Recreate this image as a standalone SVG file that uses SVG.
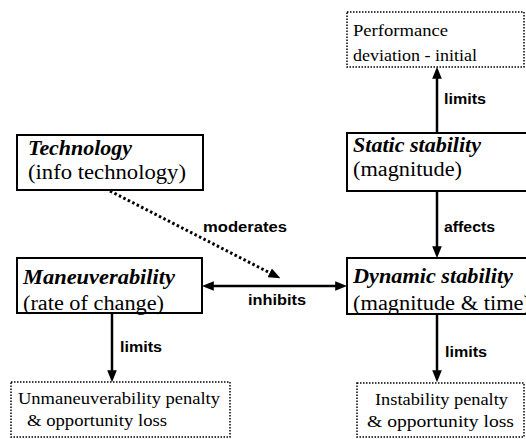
<svg xmlns="http://www.w3.org/2000/svg" width="526" height="439" viewBox="0 0 526 439">
<style>
.box{fill:#fff;stroke:#000;stroke-width:2}
.dbox{fill:#fff;stroke:#000;stroke-width:1.5;stroke-dasharray:1.5 1.5}
.t{font-family:"Liberation Serif","Times New Roman",serif;font-size:20px;fill:#000}
.tb{font-family:"Liberation Serif","Times New Roman",serif;font-size:20px;font-weight:bold;font-style:italic;fill:#000}
.ts{font-family:"Liberation Serif","Times New Roman",serif;font-size:17px;fill:#000}
.lbl{font-family:"Liberation Sans",Arial,sans-serif;font-size:14px;font-weight:bold;fill:#000}
.c{fill:none;stroke:#000;stroke-width:2.5}
.cd{fill:none;stroke:#000;stroke-width:3;stroke-dasharray:2.5 2.5}
</style>
<defs>
<marker id="ah" markerUnits="userSpaceOnUse" markerWidth="12" markerHeight="10" viewBox="0 0 10 8" refX="4" refY="4" orient="auto-start-reverse">
<path d="M0,0 L10,4 L0,8 z" fill="#000"/>
</marker>
</defs>
<g id="performance">
<rect class="dbox" x="347" y="12" width="177" height="55"/>
<text class="ts" x="353" y="36" textLength="95" lengthAdjust="spacingAndGlyphs">Performance</text>
<text class="ts" x="353" y="61" textLength="124" lengthAdjust="spacingAndGlyphs">deviation - initial</text>
</g>
<g id="technology">
<rect class="box" x="17" y="135" width="186" height="55"/>
<text class="tb" x="28" y="155" textLength="104" lengthAdjust="spacingAndGlyphs">Technology</text>
<text class="t" x="28" y="179" textLength="158" lengthAdjust="spacingAndGlyphs">(info technology)</text>
</g>
<g id="static">
<rect class="box" x="347" y="133" width="185" height="58"/>
<text class="tb" x="353" y="152" textLength="128" lengthAdjust="spacingAndGlyphs">Static stability</text>
<text class="t" x="353" y="176" textLength="109" lengthAdjust="spacingAndGlyphs">(magnitude)</text>
</g>
<g id="maneuverability">
<rect class="box" x="17" y="258" width="185" height="55"/>
<text class="tb" x="23" y="284" textLength="152" lengthAdjust="spacingAndGlyphs">Maneuverability</text>
<text class="t" x="23" y="310" textLength="141" lengthAdjust="spacingAndGlyphs">(rate of change)</text>
</g>
<g id="dynamic">
<rect class="box" x="347" y="258" width="185" height="56"/>
<text class="tb" x="353" y="283" textLength="160" lengthAdjust="spacingAndGlyphs">Dynamic stability</text>
<text class="t" x="353" y="310" textLength="178" lengthAdjust="spacingAndGlyphs">(magnitude &amp; time)</text>
</g>
<g id="unmaneuverability">
<rect class="dbox" x="11" y="382" width="219" height="55"/>
<text class="ts" x="18" y="404" textLength="202" lengthAdjust="spacingAndGlyphs">Unmaneuverability penalty</text>
<text class="ts" x="27" y="426" textLength="140" lengthAdjust="spacingAndGlyphs">&amp; opportunity loss</text>
</g>
<g id="instability">
<rect class="dbox" x="357" y="383" width="167" height="54"/>
<text class="ts" x="375" y="405" textLength="133" lengthAdjust="spacingAndGlyphs">Instability penalty</text>
<text class="ts" x="367" y="427" textLength="147" lengthAdjust="spacingAndGlyphs">&amp; opportunity loss</text>
</g>
<g id="connectors">
<path class="c" d="M437,133 L437,74" marker-end="url(#ah)"/>
<path class="c" d="M437,191 L437,251" marker-end="url(#ah)"/>
<path class="c" d="M437,314 L437,375" marker-end="url(#ah)"/>
<path class="c" d="M112,313 L112,375" marker-end="url(#ah)"/>
<path class="c" d="M209,286 L340,286" marker-start="url(#ah)" marker-end="url(#ah)"/>
<path class="cd" d="M110,191 L274,275" marker-end="url(#ah)"/>
<text class="lbl" x="444" y="104" textLength="42" lengthAdjust="spacingAndGlyphs">limits</text>
<text class="lbl" x="444" y="232" textLength="51" lengthAdjust="spacingAndGlyphs">affects</text>
<text class="lbl" x="203" y="232" textLength="84" lengthAdjust="spacingAndGlyphs">moderates</text>
<text class="lbl" x="248" y="305" textLength="58" lengthAdjust="spacingAndGlyphs">inhibits</text>
<text class="lbl" x="445" y="357" textLength="42" lengthAdjust="spacingAndGlyphs">limits</text>
<text class="lbl" x="120" y="352" textLength="42" lengthAdjust="spacingAndGlyphs">limits</text>
</g>
</svg>
